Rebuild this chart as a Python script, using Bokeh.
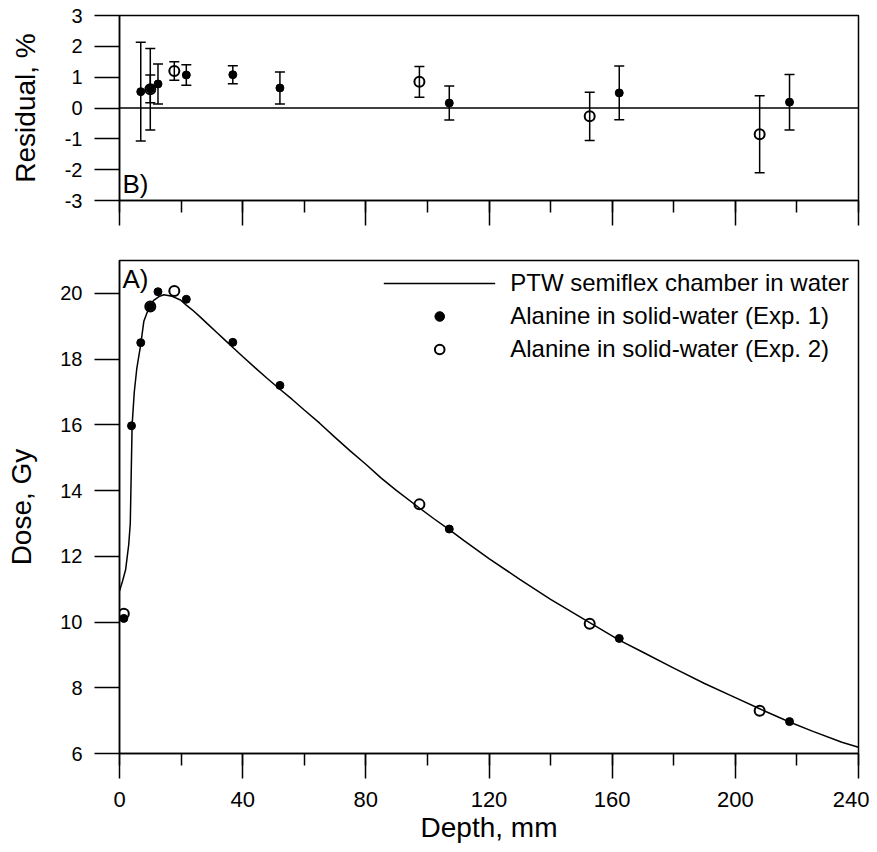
from bokeh.plotting import figure
from bokeh.models import (Whisker, TeeHead, ColumnDataSource, Span, Label,
                          SingleIntervalTicker, Range1d, Legend, LegendItem,
                          CustomJSTickFormatter)
from bokeh.layouts import column
from bokeh.embed import file_html
from bokeh.resources import INLINE

# ---------------- data ----------------
chamber_depth = [0, 1, 2, 3.0, 3.5, 3.8, 4.1, 4.8, 5.6, 6.9, 7.9, 9.5, 11, 12.8, 14.4,
                 17.1, 19.8, 21.7, 23.6, 26, 28.5, 31.7, 34, 37.1, 40, 44, 48, 52,
                 56, 60, 65, 70, 75, 80, 85, 90, 97.4, 102, 107.1, 112, 120, 130,
                 140, 152.7, 162.3, 170, 180, 190, 200, 207.9, 217.6, 225, 234.6, 240]
chamber_dose = [10.94, 11.25, 11.6, 12.36, 13.0, 14.5, 16.0, 17.0, 17.7, 18.45, 19.15,
                19.55, 19.78, 19.9, 19.96, 19.91, 19.8, 19.64, 19.5, 19.3, 19.08,
                18.8, 18.6, 18.33, 18.08, 17.74, 17.41, 17.09, 16.78, 16.45, 16.05,
                15.62, 15.2, 14.8, 14.38, 14.0, 13.47, 13.15, 12.81, 12.47, 11.93,
                11.3, 10.69, 9.98, 9.45, 9.08, 8.6, 8.13, 7.7, 7.36, 6.96, 6.68,
                6.34, 6.19]

exp1_depth = [1.4, 3.9, 6.9, 10.0, 12.5, 21.7, 36.8, 52.1, 107.1, 162.3, 217.6]
exp1_dose = [10.11, 15.97, 18.5, 19.6, 20.05, 19.82, 18.51, 17.2, 12.83, 9.5, 6.97]

exp2_depth = [1.4, 10.0, 17.8, 97.4, 152.7, 207.9]
exp2_dose = [10.25, 19.6, 20.07, 13.58, 9.95, 7.3]

res1_depth = [6.9, 10.0, 12.5, 21.7, 36.8, 52.1, 107.1, 162.3, 217.6]
res1_value = [0.53, 0.62, 0.78, 1.07, 1.08, 0.65, 0.16, 0.49, 0.19]
res1_err = [1.6, 0.45, 0.65, 0.33, 0.29, 0.52, 0.55, 0.87, 0.9]

res2_depth = [10.0, 17.8, 97.4, 152.7, 207.9]
res2_value = [0.61, 1.2, 0.85, -0.27, -0.85]
res2_err = [1.32, 0.3, 0.5, 0.78, 1.25]

x_label = "Depth, mm"
y_label_top = "Residual, %"
y_label_bottom = "Dose, Gy"
legend_labels = ["PTW semiflex chamber in water",
                 "Alanine in solid-water (Exp. 1)",
                 "Alanine in solid-water (Exp. 2)"]

FONT = "Liberation Sans"
PLAIN = CustomJSTickFormatter(code="return tick.toString();")


def style(p):
    p.xgrid.visible = False
    p.ygrid.visible = False
    p.outline_line_color = "black"
    p.outline_line_width = 1.5
    p.outline_line_alpha = 1
    p.background_fill_color = "white"
    p.border_fill_color = "white"
    for ax in (p.xaxis[0], p.yaxis[0]):
        ax.axis_line_width = 1.5
        ax.axis_line_color = "black"
        ax.major_tick_out = 25
        ax.major_tick_in = 0
        ax.major_tick_line_width = 1.5
        ax.major_tick_line_color = "black"
        ax.minor_tick_out = 12
        ax.minor_tick_in = 0
        ax.minor_tick_line_width = 1.5
        ax.minor_tick_line_color = "black"
        ax.major_label_text_color = "black"
        ax.axis_label_text_color = "black"
        ax.axis_label_text_font = FONT
        ax.axis_label_text_font_style = "normal"
        ax.axis_label_text_font_size = "28px"
    p.yaxis[0].major_label_text_font = FONT
    p.yaxis[0].major_label_text_font_size = "20px"
    p.yaxis[0].major_label_standoff = 12
    p.yaxis[0].minor_tick_line_color = None
    p.yaxis[0].formatter = PLAIN
    p.xaxis[0].ticker = SingleIntervalTicker(interval=40, num_minor_ticks=2)


# ---------------- top panel (residuals) ----------------
top = figure(frame_width=739, frame_height=185,
             x_range=Range1d(0, 240), y_range=Range1d(-3, 3),
             output_backend="svg", toolbar_location=None,
             min_border_left=119, min_border_right=11, min_border_top=15,
             min_border_bottom=40)
style(top)
top.yaxis[0].ticker = SingleIntervalTicker(interval=1, num_minor_ticks=0)
top.yaxis[0].axis_label = y_label_top
top.yaxis[0].axis_label_standoff = 21
top.xaxis[0].formatter = CustomJSTickFormatter(code="return ''")
top.xaxis[0].major_label_text_font_size = "1px"

top.add_layout(Span(location=0, dimension="width", line_color="black", line_width=1.5))

src_r1 = ColumnDataSource(dict(x=res1_depth, y=res1_value,
                               lo=[v - e for v, e in zip(res1_value, res1_err)],
                               hi=[v + e for v, e in zip(res1_value, res1_err)]))
src_r2 = ColumnDataSource(dict(x=res2_depth, y=res2_value,
                               lo=[v - e for v, e in zip(res2_value, res2_err)],
                               hi=[v + e for v, e in zip(res2_value, res2_err)]))
for src in (src_r2, src_r1):
    top.add_layout(Whisker(source=src, base="x", lower="lo", upper="hi",
                           dimension="height", line_width=1.5, line_color="black",
                           upper_head=TeeHead(size=10, line_width=1.5, line_color="black"),
                           lower_head=TeeHead(size=10, line_width=1.5, line_color="black")))
top.scatter("x", "y", source=src_r2, marker="circle", size=10, fill_color=None,
            line_color="black", line_width=2)
top.scatter("x", "y", source=src_r1, marker="circle", size=8, fill_color="black",
            line_color="black")
top.add_layout(Label(x=0, y=-3, x_offset=3, y_offset=2, text="B)", text_font=FONT,
                     text_font_size="26px", text_baseline="bottom",
                     text_color="black"))

# ---------------- bottom panel (dose) ----------------
bot = figure(frame_width=739, frame_height=493,
             x_range=Range1d(0, 240), y_range=Range1d(6, 21),
             output_backend="svg", toolbar_location=None,
             min_border_left=119, min_border_right=11, min_border_top=20,
             min_border_bottom=80)
style(bot)
bot.yaxis[0].ticker = SingleIntervalTicker(interval=2, num_minor_ticks=0)
bot.yaxis[0].axis_label = y_label_bottom
bot.yaxis[0].axis_label_standoff = 20
bot.xaxis[0].axis_label = x_label
bot.xaxis[0].major_label_text_font = FONT
bot.xaxis[0].major_label_text_font_size = "22px"
bot.xaxis[0].major_label_standoff = 13
bot.xaxis[0].axis_label_standoff = 2

r_line = bot.line(chamber_depth, chamber_dose, line_color="black", line_width=1.5)
r_e2 = bot.scatter(exp2_depth, exp2_dose, marker="circle", size=10, fill_color=None,
                   line_color="black", line_width=2)
r_e1 = bot.scatter(exp1_depth, exp1_dose, marker="circle", size=8, fill_color="black",
                   line_color="black")
bot.add_layout(Label(x=0, y=20.88, x_offset=3, text="A)", text_font=FONT,
                     text_font_size="26px", text_baseline="top", text_color="black"))

legend = Legend(items=[LegendItem(label=legend_labels[0], renderers=[r_line]),
                       LegendItem(label=legend_labels[1], renderers=[r_e1]),
                       LegendItem(label=legend_labels[2], renderers=[r_e2])],
                location="top_right", border_line_color=None,
                background_fill_alpha=0, label_text_font=FONT,
                label_text_font_size="24px", label_text_color="black",
                glyph_width=112, glyph_height=24, label_height=24,
                label_standoff=15, spacing=5, padding=5, margin=9)
bot.add_layout(legend)

layout = column(top, bot, spacing=0)
open("out.html", "w").write(file_html(layout, INLINE))
